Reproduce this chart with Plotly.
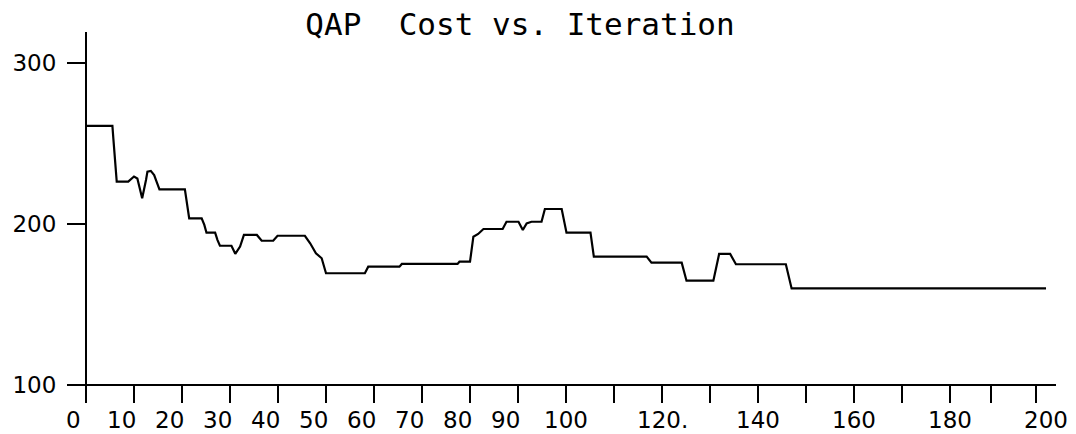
import plotly.graph_objects as go

# ---- data ----
iteration = [0, 5.5, 5.7, 6.4, 8.8, 10.0, 10.7, 11.25, 11.7, 12.5, 12.8, 13.5, 14.2, 14.7, 15.3,
             20.6, 20.8, 21.5, 24.1, 24.65, 25.1, 26.9, 27.4, 27.9, 30.3, 31.1, 32.1, 32.9,
             35.6, 36.6, 39.0, 39.9, 45.6, 46.7, 47.9, 49.1, 50.0, 58.1, 58.8, 65.3, 65.8,
             77.4, 77.8, 80.0, 80.7, 81.7, 82.8, 86.8, 87.6, 90.1, 91.0, 91.8, 92.8, 94.9,
             95.6, 99.1, 100.1, 105.1, 105.8, 116.8, 117.8, 124.1, 125.1, 130.7, 131.9,
             134.2, 135.4, 145.8, 147.0, 200.0]
cost = [261, 261, 253, 226.3, 226.3, 229.5, 228.3, 222, 216, 227.3, 232.5, 233, 230.4, 226.3, 221.5,
        221.5, 217, 203.5, 203.5, 199.4, 194.6, 194.6, 190, 186.5, 186.5, 181.5, 186, 193.2,
        193.2, 189.6, 189.6, 192.7, 192.7, 188, 181.8, 178.7, 169.4, 169.4, 173.5, 173.5, 175.2,
        175.2, 176.6, 176.6, 192.1, 193.8, 196.9, 196.9, 201.4, 201.4, 196.3, 200.4, 201.4, 201.4,
        209.3, 209.3, 194.6, 194.6, 179.7, 179.7, 176, 176, 164.8, 164.8, 181.4,
        181.4, 175, 175, 160, 160]

x_tick_marks = [0, 10, 20, 30, 40, 50, 60, 70, 80, 90, 100, 110, 120, 130, 140, 150, 160, 170, 180, 188.5, 198]
x_label_vals = [0, 10, 20, 30, 40, 50, 60, 70, 80, 90, 100, 120, 140, 160, 180, 200]
x_label_text = ["0", "10", "20", "30", "40", "50", "60", "70", "80", "90", "100", "120.", "140", "160", "180", "200"]
y_tick_vals = [100, 200, 300]
y_tick_text = ["100", "200", "300"]

title_text = "QAP  Cost vs. Iteration"

# ---- layout constants ----
FIG_W, FIG_H = 1076, 434
X_MIN, X_MAX = -3.75, 202.08
Y_MIN, Y_MAX = 89.44, 319.25
FONT = "DejaVu Sans"

fig = go.Figure()
fig.add_trace(go.Scatter(x=iteration, y=cost, mode="lines",
                         line=dict(color="black", width=2.2), hoverinfo="skip"))

x_pos = (100 - Y_MIN) / (Y_MAX - Y_MIN)   # x axis drawn at cost = 100
y_pos = (0 - X_MIN) / (X_MAX - X_MIN)     # y axis drawn at iteration = 0

fig.update_layout(
    width=FIG_W, height=FIG_H,
    margin=dict(l=68, r=20, t=32, b=32, autoexpand=False),
    paper_bgcolor="white", plot_bgcolor="white",
    showlegend=False,
    title=dict(text=title_text, x=520 / FIG_W, xanchor="center", xref="container",
               y=1 - 24 / FIG_H, yanchor="middle", yref="container",
               font=dict(family="DejaVu Sans Mono", size=31, color="black")),
    xaxis=dict(range=[X_MIN, X_MAX], anchor="free", position=x_pos, automargin=False,
               showline=True, linecolor="black", linewidth=2,
               ticks="outside", ticklen=17, tickwidth=2, tickcolor="black",
               tickmode="array", tickvals=x_tick_marks, showticklabels=False,
               showgrid=False, zeroline=False),
    yaxis=dict(range=[Y_MIN, Y_MAX], anchor="free", position=y_pos, automargin=False,
               showline=True, linecolor="black", linewidth=2,
               ticks="outside", ticklen=18, tickwidth=2, tickcolor="black",
               tickmode="array", tickvals=y_tick_vals, ticktext=y_tick_text,
               tickfont=dict(family=FONT, size=23, color="black"),
               ticklabelstandoff=6,
               showgrid=False, zeroline=False),
)

for v, t in zip(x_label_vals, x_label_text):
    fig.add_annotation(x=v, y=100, xref="x", yref="y", text=t, showarrow=False,
                       xanchor="center", yanchor="middle",
                       xshift=(-13 if v < 100 else 0), yshift=-35,
                       font=dict(family=FONT, size=23, color="black"))

# remove the browser's default 8px page margin so the figure fills the window
fig.write_html("out.html", config={"displayModeBar": False, "staticPlot": True},
               post_script="document.body.style.margin='0px';")
